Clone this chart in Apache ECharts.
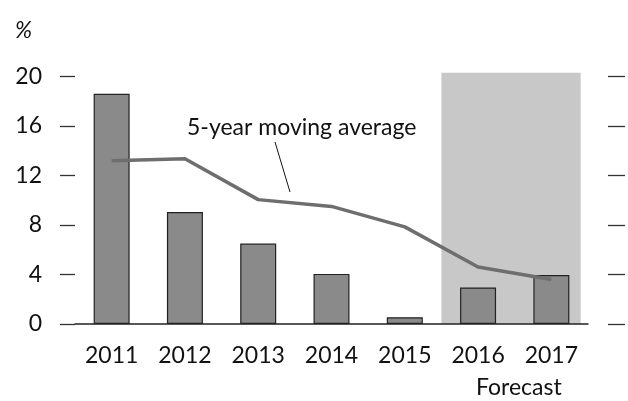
<!DOCTYPE html>
<html>
<head>
<meta charset="utf-8">
<script src="https://cdn.jsdelivr.net/npm/echarts@6/dist/echarts.min.js"></script>
<style>
  html, body { margin: 0; padding: 0; background: #fff; }
  #chart { width: 628px; height: 401px; }
</style>
</head>
<body>
<div id="chart"></div>
<script>
// data
var years = ['2011', '2012', '2013', '2014', '2015', '2016', '2017']
var growth = [18.6, 9.05, 6.5, 4.05, 0.55, 2.95, 3.95]
var movingAvg = [13.2, 13.35, 10.05, 9.5, 7.85, 4.6, 3.6]
var forecastSpan = [5, 6.9] // in category-band units on hidden value axis
var forecastTop = 20.3
var yTicks = { min: 0, max: 20, interval: 4 }

var font = 'Lato'
var chart = echarts.init(document.getElementById('chart'))

chart.setOption({
  animation: false,
  textStyle: { fontFamily: font },
  grid: { left: 75, right: 40, top: 76.5, bottom: 77 },
  xAxis: [
    {
      type: 'category',
      data: years,
      axisLine: { lineStyle: { color: '#222', width: 1.5 } },
      axisTick: { show: false },
      axisLabel: { color: '#111', fontSize: 23, fontFamily: font, margin: 20 }
    },
    { type: 'value', min: 0, max: 7, show: false }
  ],
  yAxis: [
    {
      type: 'value',
      min: yTicks.min,
      max: yTicks.max,
      interval: yTicks.interval,
      offset: 12,
      axisLine: { show: false },
      axisTick: { show: true, length: 15, lineStyle: { color: '#333', width: 1.3 } },
      axisLabel: { color: '#111', fontSize: 23, fontFamily: font, margin: 21 },
      splitLine: { show: false }
    },
    {
      type: 'value',
      position: 'right',
      min: yTicks.min,
      max: yTicks.max,
      interval: yTicks.interval,
      offset: 20,
      axisLine: { show: false },
      axisTick: { show: true, length: 17, lineStyle: { color: '#333', width: 1.3 } },
      axisLabel: { show: false },
      splitLine: { show: false }
    }
  ],
  series: [
    {
      name: 'Growth',
      type: 'bar',
      barWidth: 36,
      z: 2,
      itemStyle: { color: '#8a8a8a', borderColor: '#222', borderWidth: 1.2 },
      data: growth
    },
    {
      name: '5-year moving average',
      type: 'line',
      z: 3,
      symbol: 'none',
      lineStyle: { color: '#6e6e6e', width: 3.5 },
      data: movingAvg
    },
    {
      // keeps the hidden band axis alive
      type: 'line',
      xAxisIndex: 1,
      silent: true,
      symbol: 'none',
      lineStyle: { opacity: 0 },
      data: []
    }
  ]
})

// forecast shading, placed through the axes
var p0 = chart.convertToPixel({ xAxisIndex: 1, yAxisIndex: 0 }, [forecastSpan[0], 0])
var p1 = chart.convertToPixel({ xAxisIndex: 1, yAxisIndex: 0 }, [forecastSpan[1], forecastTop])

chart.setOption({
  graphic: [
    {
      type: 'rect',
      z: -1,
      silent: true,
      shape: { x: p0[0], y: p1[1], width: p1[0] - p0[0], height: p0[1] - p1[1] },
      style: { fill: '#c8c8c8' }
    },
    {
      type: 'text',
      left: 15,
      top: 19,
      style: { text: '%', font: 'italic 23px ' + font, fill: '#111' }
    },
    {
      type: 'text',
      left: 187,
      top: 116,
      style: { text: '5-year moving average', font: '23px ' + font, fill: '#111' }
    },
    {
      type: 'line',
      shape: { x1: 275, y1: 142, x2: 290, y2: 192 },
      style: { stroke: '#111', lineWidth: 1 }
    },
    {
      type: 'text',
      left: 476,
      top: 376,
      style: { text: 'Forecast', font: '23px ' + font, fill: '#111' }
    }
  ]
})
</script>
</body>
</html>
